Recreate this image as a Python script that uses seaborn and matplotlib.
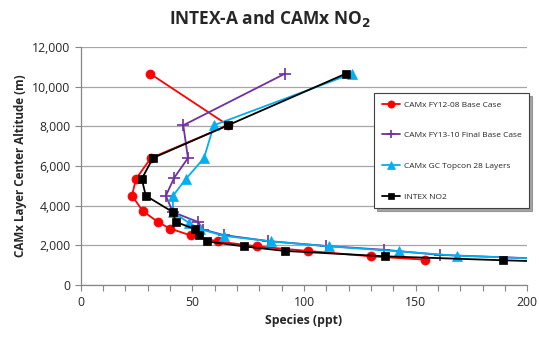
import pandas as pd
import matplotlib
matplotlib.use("Agg")
import matplotlib.pyplot as plt
import matplotlib.ticker as mticker
import seaborn as sns

# values (ppt, m)
fy12_x = [31, 66, 31.4, 24.7, 22.9, 27.8, 34.5, 39.9, 49.3, 61.4, 78.9, 101.8, 130, 154.3]
fy12_y = [10650, 8050, 6400, 5350, 4500, 3730, 3180, 2850, 2500, 2200, 1950, 1720, 1450, 1280]

fy13_x = [91.5, 45.9, 48, 41.8, 38.1, 41.2, 52.5, 54.8, 64.1, 83.8, 110, 135.9, 161, 250]
fy13_y = [10650, 8050, 6400, 5400, 4500, 3680, 3180, 2800, 2520, 2220, 1970, 1780, 1520, 1150]

gc_x = [121.5, 59.6, 55.2, 47.1, 41.3, 41.2, 48.5, 53.4, 64.1, 85.2, 111.2, 142.6, 168.5, 250]
gc_y = [10650, 8050, 6400, 5350, 4500, 3680, 3130, 2820, 2480, 2200, 1950, 1700, 1480, 1150]

intex_x = [118.8, 65.9, 32.3, 27.3, 29.1, 41.2, 42.6, 51.1, 52.9, 56.5, 73.1, 91.5, 136.3, 189.2, 250]
intex_y = [10650, 8050, 6400, 5350, 4500, 3680, 3180, 2820, 2500, 2200, 1950, 1720, 1450, 1250, 1050]

series = [
    ("CAMx FY12-08 Base Case", fy12_x, fy12_y, "#FF0000", "o", 6.5),
    ("CAMx FY13-10 Final Base Case", fy13_x, fy13_y, "#7030A0", "+", 8),
    ("CAMx GC Topcon 28 Layers", gc_x, gc_y, "#00B0F0", "^", 7),
    ("INTEX NO2", intex_x, intex_y, "#000000", "s", 5.5),
]

sns.set_style("white")
plt.rcParams["font.family"] = ["Open Sans", "DejaVu Sans"]

fig, ax = plt.subplots(figsize=(5.39, 3.37), dpi=100)
fig.subplots_adjust(left=0.150, right=0.978, bottom=0.154, top=0.861)

for name, xs, ys, col, mk, ms in series:
    df = pd.DataFrame({"x": xs, "y": ys})
    sns.lineplot(data=df, x="x", y="y", sort=False, ax=ax, color=col,
                 marker=mk, markersize=ms, markeredgecolor=col,
                 markeredgewidth=1.2 if mk == "+" else 0.5,
                 linewidth=1.3, label=name, clip_on=True)

ax.set_xlim(0, 200)
ax.set_ylim(0, 12000)
ax.xaxis.set_major_locator(mticker.MultipleLocator(50))
ax.xaxis.set_minor_locator(mticker.MultipleLocator(10))
ax.yaxis.set_major_locator(mticker.MultipleLocator(2000))
ax.yaxis.set_major_formatter(mticker.FuncFormatter(lambda v, p: f"{int(v):,}"))
ax.grid(axis="y", color="#A6A6A6", linewidth=0.9)
ax.set_axisbelow(True)
for s in ["top", "right"]:
    ax.spines[s].set_visible(False)
for s in ["left", "bottom"]:
    ax.spines[s].set_color("#868686")
    ax.spines[s].set_linewidth(0.9)
ax.tick_params(axis="both", which="both", direction="out", color="#868686",
               labelsize=8.8, length=4, width=0.8)
ax.tick_params(axis="both", bottom=True, left=True, which="both")
ax.tick_params(axis="y", which="minor", left=False)

ax.set_xlabel("Species (ppt)", fontsize=8.8, fontweight="bold")
ax.set_ylabel("CAMx Layer Center Altitude (m)", fontsize=8.4, fontweight="bold")
fig.suptitle("INTEX-A and CAMx NO$_\\mathbf{2}$", fontsize=12.5, fontweight="bold", y=0.975)

leg = ax.legend(loc="upper left", bbox_to_anchor=(0.657, 0.805), fontsize=6,
                frameon=True, fancybox=False,
                shadow={"ox": 2, "oy": -2, "color": "#7F7F7F", "alpha": 0.7},
                labelspacing=2.75, borderpad=0.9, handlelength=2.2,
                handletextpad=0.5, edgecolor="#404040", borderaxespad=0,
                markerscale=0.8)
leg.get_frame().set_linewidth(0.8)

fig.savefig("out.png", dpi=100)
